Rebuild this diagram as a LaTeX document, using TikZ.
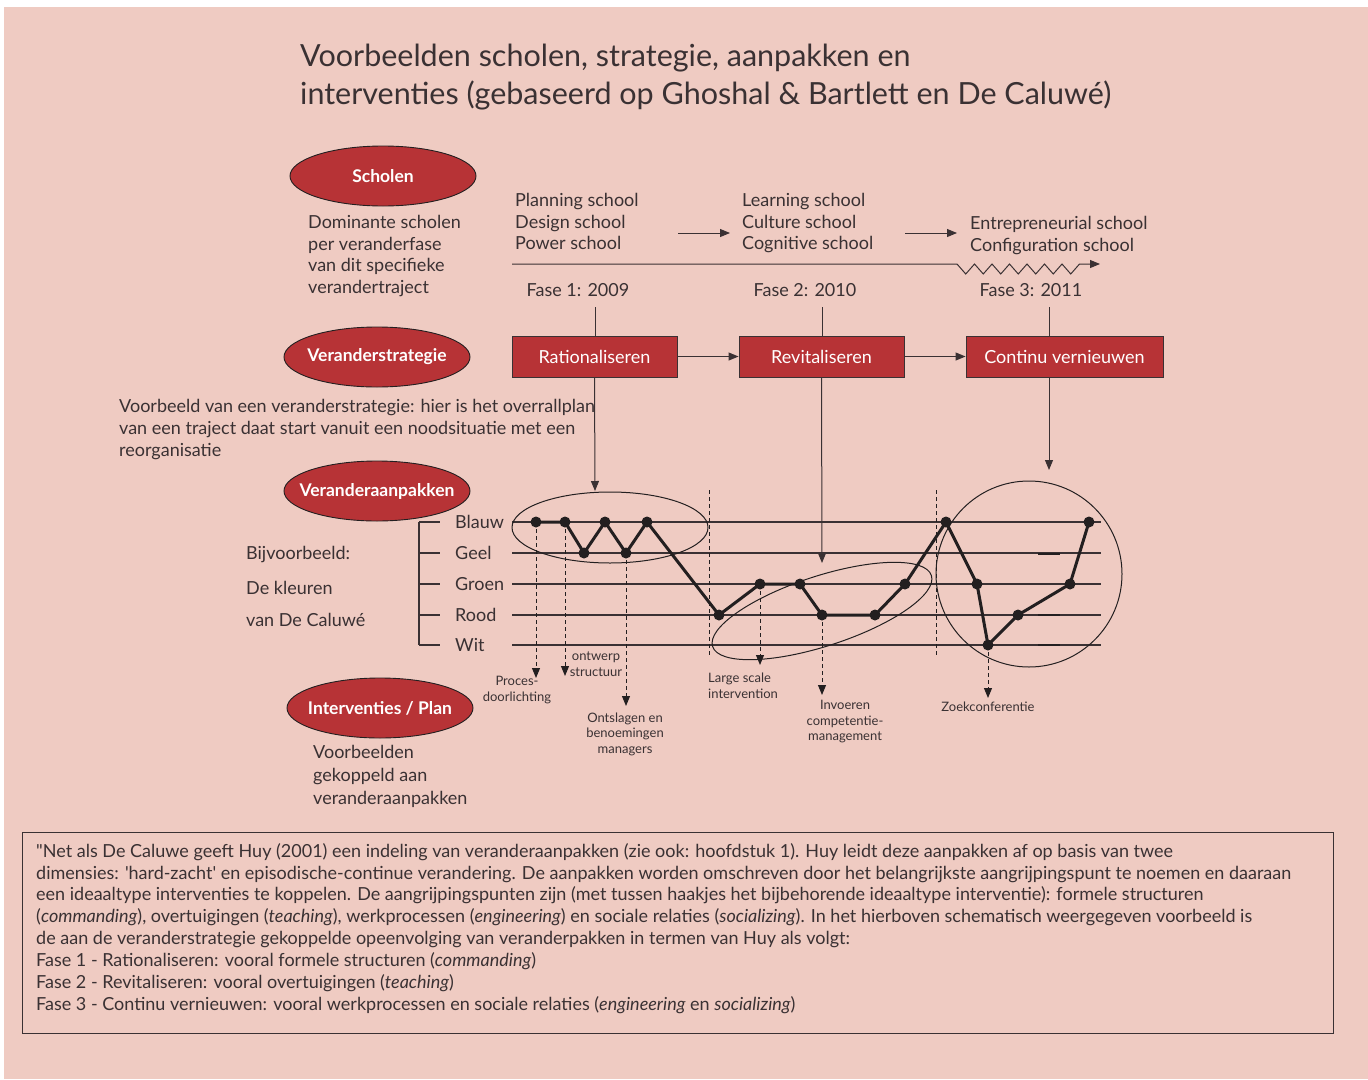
\documentclass[tikz,border=0pt]{standalone}
\usepackage{fontspec}
\setmainfont{Lato}
\usetikzlibrary{arrows.meta,shapes.geometric}

\definecolor{bgpink}{HTML}{EFCBC2}
\definecolor{boxred}{HTML}{B73336}
\definecolor{ink}{HTML}{3A3133}
\definecolor{dataink}{HTML}{231F20}

\tikzset{
  oval/.style={ellipse, draw=dataink, fill=boxred, line width=0.9pt,
    minimum width=186pt, minimum height=60pt, inner sep=0pt, text=white,
    font=\bfseries\fontsize{17.5}{20}\selectfont},
  phasebox/.style={draw=ink, fill=boxred, text=white, minimum height=41pt,
    line width=0.9pt, inner sep=0pt, font=\fontsize{18}{20}\selectfont},
  txt/.style={anchor=north west, inner sep=0pt, align=left, text=ink,
    font=\fontsize{18}{21.7}\selectfont},
  txtline/.style={anchor=west, inner sep=0pt, text=ink,
    font=\fontsize{18}{20}\selectfont},
  small/.style={inner sep=0pt, align=center, text=ink,
    font=\fontsize{13}{15.5}\selectfont},
  arr/.style={draw=ink, line width=1pt, -{Triangle[length=10pt,width=8pt]}},
  dasharr/.style={draw=dataink, line width=1pt, dash pattern=on 4pt off 3pt,
    -{Triangle[length=10pt,width=8pt]}},
  sep/.style={draw=dataink, line width=1pt, dash pattern=on 4pt off 3pt},
  level/.style={draw=ink, line width=1.4pt},
  data/.style={draw=dataink, line width=3pt, line join=round},
  dot/.style={fill=dataink},
  group/.style={draw=dataink, line width=1pt}
}
% label of an oval: zero width so the oval keeps its own size
\newcommand{\ovaltext}[1]{\makebox[0pt]{#1}}

\begin{document}
\begin{tikzpicture}[x=1pt,y=-1pt]
% page and background
\fill[white] (0,0) rectangle (1368,1079);
\fill[bgpink] (4,7) rectangle (1368,1079);
\useasboundingbox (0,0) rectangle (1368,1079);

% title
\node[txtline, font=\fontsize{30.5}{36}\selectfont] (title1) at (300,58)
  {Voorbeelden scholen, strategie, aanpakken en};
\node[txtline, font=\fontsize{30.5}{36}\selectfont] (title2) at (300,95)
  {interventies (gebaseerd op Ghoshal \& Bartlett en De Caluwé)};

% left-hand categories
\node[oval] (scholen) at (383,176) {\ovaltext{Scholen}};
\node[oval] (strategie) at (377,357) {\ovaltext{Veranderstrategie}};
\node[oval] (aanpak) at (377,491) {\ovaltext{Veranderaanpakken}};
\node[oval] (interv) at (380,708) {\ovaltext{Interventies / Plan}};

\node[txt] (schooltxt) at (308,215)
  {Dominante scholen\\per veranderfase\\van dit specifieke\\verandertraject};
\node[txt, font=\fontsize{18}{22}\selectfont] (strattxt) at (119,399)
  {Voorbeeld van een veranderstrategie: hier is het overrallplan\\van een traject daat start vanuit een noodsituatie met een\\reorganisatie};
\node[txtline] (bijv1) at (246,555) {Bijvoorbeeld:};
\node[txtline] (bijv2) at (246,588) {De kleuren};
\node[txtline] (bijv3) at (246,620) {van De Caluwé};
\node[txt, font=\fontsize{18}{23}\selectfont] (intervtxt) at (313,745)
  {Voorbeelden\\gekoppeld aan\\veranderaanpakken};

% schools per phase
\node[txt] (schools1) at (515,193) {Planning school\\Design school\\Power school};
\node[txt] (schools2) at (742,193) {Learning school\\Culture school\\Cognitive school};
\node[txt] (schools3) at (970,216) {Entrepreneurial school\\Configuration school};
\coordinate (s1a) at (678,233);
\coordinate (s1b) at (730,233);
\coordinate (s2a) at (905,233);
\coordinate (s2b) at (957,233);
\draw[arr] (s1a) -- (s1b);
\draw[arr] (s2a) -- (s2b);

% time line with turbulent last phase
\coordinate (tl0) at (512,264);
\coordinate (tlz) at (957,264);
\coordinate (tlend) at (1100,264);
\draw[arr] (tl0) -- (tlz)
  \foreach \i in {0,...,6} { -- ({957+17.5*\i+8.75},274) -- ({957+17.5*(\i+1)},264) }
  -- (tlend);

\node[txtline, anchor=center] (fase1) at (578,290) {Fase 1: 2009};
\node[txtline, anchor=center] (fase2) at (805,290) {Fase 2: 2010};
\node[txtline, anchor=center] (fase3) at (1031,290) {Fase 3: 2011};

% strategy phases
\node[phasebox, minimum width=165pt] (rat) at (594.5,356.5) {Rationaliseren};
\node[phasebox, minimum width=165pt] (rev) at (821.5,356.5) {Revitaliseren};
\node[phasebox, minimum width=197pt] (cv) at (1064.5,356.5) {Continu vernieuwen};
\draw[arr] (rat) -- (rev);
\draw[arr] (rev) -- (cv);

\coordinate (t1) at (595,307);
\coordinate (t2) at (822,307);
\coordinate (t3) at (1049,307);
\draw[draw=ink, line width=1pt] (t1) -- (t1 |- rat.north);
\draw[draw=ink, line width=1pt] (t2) -- (t2 |- rev.north);
\draw[draw=ink, line width=1pt] (t3) -- (t3 |- cv.north);

% colour levels
\coordinate (bl) at (419,522);
\coordinate (wt) at (419,645);
\draw[draw=ink, line width=1.2pt] (bl) -- (wt);
\foreach \y/\name/\lab in {522/blauw/Blauw, 553/geel/Geel, 584/groen/Groen, 615/rood/Rood, 645/wit/Wit} {
  \draw[draw=ink, line width=1.2pt] (419,\y) -- (440,\y);
  \node[txtline] (lab\name) at (455,\y) {\lab};
  \draw[level] (512,\y) coordinate (\name0) -- (1101,\y) coordinate (\name1);
}
% small marks on the right
\foreach \y in {554,615,645} {
  \draw[draw=dataink, line width=2.2pt] (1038,\y) -- (1060,\y);
}

% phase separators
\coordinate (sepA0) at (709,490);
\coordinate (sepA1) at (709,657);
\coordinate (sepB0) at (936,490);
\coordinate (sepB1) at (936,657);
\draw[sep] (sepA0) -- (sepA1);
\draw[sep] (sepB0) -- (sepB1);

% groupings of the approaches
\node[ellipse, group, minimum width=196pt, minimum height=71pt, inner sep=0pt] (grp1) at (610,527.5) {};
\node[ellipse, group, minimum width=230pt, minimum height=70pt, inner sep=0pt, rotate=18] (grp2) at (822,611) {};
\node[circle, group, minimum size=186pt, inner sep=0pt] (grp3) at (1029,574) {};

% route through the colours
\foreach \n/\x/\y in {p1/536/522, p2/565/522, p3/584/553, p4/605/522, p5/626/553, p6/647/522,
  p7/719/615, p8/760/584, p9/800/584, p10/822/615, p11/875/615, p12/905/584,
  p13/946/522, p14/977/584, p15/988/645, p16/1018/615, p17/1070/584, p18/1089/522} {
  \coordinate (\n) at (\x,\y);
}
\draw[data] (p1) -- (p2) -- (p3) -- (p4) -- (p5) -- (p6) -- (p7) -- (p8) -- (p9) -- (p10)
  -- (p11) -- (p12) -- (p13) -- (p14) -- (p15) -- (p16) -- (p17) -- (p18);
\foreach \n in {p1,p2,p3,p4,p5,p6,p7,p8,p9,p10,p11,p12,p13,p14,p15,p16,p17,p18} {
  \fill[dot] (\n) circle (5.5pt);
}

% strategy to approaches
\coordinate (g1top) at (595,491);
\coordinate (g2top) at (822,563);
\coordinate (g3top) at (1049,470);
\draw[arr] (rat.south) -- (g1top);
\draw[arr] (rev.south) -- (g2top);
\draw[arr] (t3 |- cv.south) -- (g3top);

% interventions
\coordinate (i1) at (536,678);
\coordinate (i2) at (565,676);
\coordinate (i3) at (626,706);
\coordinate (i4) at (760,665);
\coordinate (i5) at (822,695);
\coordinate (i6) at (988,698);
\draw[dasharr] (p1) -- (i1);
\draw[dasharr] (p2) -- (i2);
\draw[dasharr] (p5) -- (i3);
\draw[dasharr] (p8) -- (i4);
\draw[dasharr] (p10) -- (i5);
\draw[dasharr] (p15) -- (i6);

\node[small] (lproc) at (517,690) {Proces-\\doorlichting};
\node[small] (lontw) at (596,664) {ontwerp\\structuur};
\node[small] (lontsl) at (625,734) {Ontslagen en\\benoemingen\\managers};
\node[small, anchor=west, align=left] (llarge) at (708,686) {Large scale\\intervention};
\node[small] (linv) at (845,722) {Invoeren\\competentie-\\management};
\node[small] (lzoek) at (988,707) {Zoekconferentie};

% explanatory text
\node[draw=ink, line width=1pt, minimum width=1311pt, minimum height=201pt, inner sep=0pt,
  anchor=north west] (expl) at (22,832) {};
\node[txt, font=\fontsize{18}{21.9}\selectfont] (expltxt) at (36,843)
  {\textquotedbl Net als De Caluwe geeft Huy (2001) een indeling van veranderaanpakken (zie ook: hoofdstuk 1). Huy leidt deze aanpakken af op basis van twee\\
   dimensies: \textquotesingle hard-zacht\textquotesingle{} en episodische-continue verandering. De aanpakken worden omschreven door het belangrijkste aangrijpingspunt te noemen en daaraan\\
   een ideaaltype interventies te koppelen. De aangrijpingspunten zijn (met tussen haakjes het bijbehorende ideaaltype interventie): formele structuren\\
   (\textit{commanding}), overtuigingen (\textit{teaching}), werkprocessen (\textit{engineering}) en sociale relaties (\textit{socializing}). In het hierboven schematisch weergegeven voorbeeld is\\
   de aan de veranderstrategie gekoppelde opeenvolging van veranderpakken in termen van Huy als volgt:\\
   Fase 1 - Rationaliseren: vooral formele structuren (\textit{commanding})\\
   Fase 2 - Revitaliseren: vooral overtuigingen (\textit{teaching})\\
   Fase 3 - Continu vernieuwen: vooral werkprocessen en sociale relaties (\textit{engineering} en \textit{socializing})};
\end{tikzpicture}
\end{document}
